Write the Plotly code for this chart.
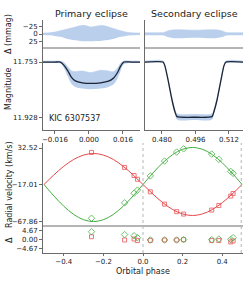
import plotly.graph_objects as go

W, H = 249, 282

# ---------------- data ----------------
# Primary eclipse model + scatter envelopes
p_phase = [-0.0216, -0.0160, -0.0135, -0.0119, -0.0100, -0.0083, -0.0064, -0.0031, 0.0007,
           0.0055, 0.0092, 0.0116, 0.0135, 0.0149, 0.0164, 0.0200, 0.0240]
p_model = [11.753, 11.753, 11.753, 11.762, 11.780, 11.800, 11.812, 11.818, 11.820,
           11.818, 11.813, 11.803, 11.785, 11.766, 11.753, 11.753, 11.753]
p_mag_hi = [11.750, 11.750, 11.750, 11.754, 11.768, 11.780, 11.783, 11.781, 11.786,
            11.779, 11.781, 11.783, 11.772, 11.757, 11.750, 11.750, 11.750]
p_mag_lo = [11.756, 11.756, 11.757, 11.770, 11.797, 11.820, 11.831, 11.836, 11.838,
            11.836, 11.831, 11.823, 11.803, 11.780, 11.760, 11.756, 11.756]

# Primary residual envelope (mmag)
pr_phase = [-0.0216, -0.0183, -0.0160, -0.0136, -0.0112, -0.0088, -0.0064, -0.0041, -0.0017,
            0.0007, 0.0031, 0.0055, 0.0078, 0.0102, 0.0126, 0.0150, 0.0173, 0.0197, 0.0240]
pr_hi = [-3, -4, -6, -10, -14, -18, -22, -26, -27, -22, -24, -27, -25, -20, -15, -10, -6, -4, -3]
pr_lo = [3, 4, 6, 9, 13, 17, 20, 22, 23, 23, 22, 22, 20, 17, 13, 9, 6, 4, 3]

# Secondary eclipse model + scatter envelopes
s_phase = [0.4719, 0.4805, 0.4814, 0.4829, 0.4848, 0.4862, 0.4872, 0.4955, 0.5039,
           0.5048, 0.5063, 0.5082, 0.5096, 0.5106, 0.5187]
s_model = [11.753, 11.753, 11.765, 11.809, 11.872, 11.909, 11.924, 11.926, 11.924,
           11.909, 11.872, 11.809, 11.765, 11.753, 11.753]
s_mag_hi = [11.750, 11.750, 11.761, 11.804, 11.866, 11.902, 11.915, 11.917, 11.915,
            11.902, 11.866, 11.804, 11.761, 11.750, 11.750]
s_mag_lo = [11.756, 11.756, 11.769, 11.814, 11.878, 11.916, 11.933, 11.935, 11.933,
            11.916, 11.878, 11.814, 11.769, 11.756, 11.756]

# Secondary residual envelope (mmag)
sr_phase = [0.4719, 0.4790, 0.4810, 0.4824, 0.4857, 0.4955, 0.5058, 0.5091, 0.5106, 0.5125, 0.5187]
sr_hi = [-4, -4, -5, -9, -13, -12, -13, -9, -5, -4, -4]
sr_lo = [4, 4, 5, 9, 13, 12, 13, 9, 5, 4, 4]

# RV model curves (km/s)
rv_phase = [-0.50, -0.45, -0.40, -0.35, -0.30, -0.25, -0.20, -0.15, -0.10, -0.05, 0.00,
            0.05, 0.10, 0.15, 0.20, 0.25, 0.30, 0.35, 0.40, 0.45, 0.50]
rv_red = [-17.0, -4.0, 7.7, 17.0, 22.9, 25.0, 22.9, 17.0, 7.7, -4.0, -17.0,
          -30.0, -41.7, -51.0, -56.9, -59.0, -56.9, -51.0, -41.7, -30.0, -17.0]
rv_green = [-17.0, -32.5, -46.5, -57.6, -64.7, -67.2, -64.7, -57.6, -46.5, -32.5, -17.0,
            -1.5, 12.5, 23.6, 30.7, 33.2, 30.7, 23.6, 12.5, -1.5, -17.0]

# RV observations
obs_phase = [-0.260, -0.093, -0.045, -0.028, 0.037, 0.109, 0.170, 0.205, 0.347, 0.383, 0.443, 0.455]
obs_red = [26.6, 6.2, -4.8, -9.9, -26.9, -43.6, -53.8, -57.1, -51.7, -45.4, -32.7, -29.2]
obs_green = [-62.8, -41.9, -28.8, -24.6, -5.4, 14.8, 27.0, 31.4, 24.3, 17.1, 0.8, -1.8]
res_red = [1.7, 0.0, 0.5, -0.3, -0.2, 0.0, 0.0, 0.2, -0.3, -0.3, -1.0, -0.5]
res_green = [4.3, 2.8, 2.2, 1.2, 0.0, 0.0, 0.0, 0.2, 0.2, 0.5, 0.3, 1.2]

# Ticks
p_ticks = [-0.016, 0.0, 0.016]
p_ticktext = ["\u22120.016", "0.000", "0.016"]
s_ticks = [0.480, 0.496, 0.512]
s_ticktext = ["0.480", "0.496", "0.512"]
res_ticks = [-25, 0, 25]
res_ticktext = ["\u221225", "0", "25"]
mag_ticks = [11.753, 11.928]
mag_ticktext = ["11.753", "11.928"]
rv_ticks = [32.52, -17.01, -67.86]
rv_ticktext = ["32.52", "\u221217.01", "\u221267.86"]
rvr_ticks = [4.67, 0.0, -4.67]
rvr_ticktext = ["4.67", "0.00", "\u22124.67"]
ph_ticks = [-0.4, -0.2, 0.0, 0.2, 0.4]
ph_ticktext = ["\u22120.4", "\u22120.2", "0.0", "0.2", "0.4"]
eclipse_phases = [0.0, 0.496]

# ---------------- styling ----------------
BAND = "#b9cfec"
MODEL = "#1a2436"
RED = "#e8474a"
GREEN = "#3fae3f"
SPINE = "#6b6b6b"
FONT = "DejaVu Sans"

def px(x):
    return x / W

def py(y):
    return 1 - y / H

fig = go.Figure()

def band(x, lo, hi, xa, ya):
    fig.add_trace(go.Scatter(x=x, y=lo, xaxis=xa, yaxis=ya, mode="lines",
                             line=dict(width=0, color=BAND, shape="spline"),
                             showlegend=False, hoverinfo="skip"))
    fig.add_trace(go.Scatter(x=x, y=hi, xaxis=xa, yaxis=ya, mode="lines", fill="tonexty",
                             fillcolor=BAND, line=dict(width=0.6, color=BAND, shape="spline"),
                             showlegend=False, hoverinfo="skip"))

# primary residual + mag
band(pr_phase, pr_lo, pr_hi, "x", "y")
band(p_phase, p_mag_lo, p_mag_hi, "x", "y2")
fig.add_trace(go.Scatter(x=p_phase, y=p_model, xaxis="x", yaxis="y2", mode="lines",
                         line=dict(color=MODEL, width=1.3, shape="spline", smoothing=0.6),
                         showlegend=False))
# secondary residual + mag
band(sr_phase, sr_lo, sr_hi, "x2", "y5")
band(s_phase, s_mag_lo, s_mag_hi, "x2", "y6")
fig.add_trace(go.Scatter(x=s_phase, y=s_model, xaxis="x2", yaxis="y6", mode="lines",
                         line=dict(color=MODEL, width=1.3, shape="spline", smoothing=0.5),
                         showlegend=False))

# RV curves
fig.add_trace(go.Scatter(x=rv_phase, y=rv_red, xaxis="x3", yaxis="y3", mode="lines",
                         line=dict(color=RED, width=1, shape="spline"), showlegend=False))
fig.add_trace(go.Scatter(x=rv_phase, y=rv_green, xaxis="x3", yaxis="y3", mode="lines",
                         line=dict(color=GREEN, width=1, shape="spline"), showlegend=False))
fig.add_trace(go.Scatter(x=obs_phase, y=obs_red, xaxis="x3", yaxis="y3", mode="markers",
                         marker=dict(symbol="square-open", size=4, color=RED, line=dict(width=1)),
                         opacity=0.75, showlegend=False))
fig.add_trace(go.Scatter(x=obs_phase, y=obs_green, xaxis="x3", yaxis="y3", mode="markers",
                         marker=dict(symbol="diamond-open", size=5, color=GREEN, line=dict(width=1)),
                         opacity=0.75, showlegend=False))
fig.add_trace(go.Scatter(x=obs_phase, y=res_red, xaxis="x3", yaxis="y4", mode="markers",
                         marker=dict(symbol="square-open", size=4, color=RED, line=dict(width=1)),
                         opacity=0.75, showlegend=False))
fig.add_trace(go.Scatter(x=obs_phase, y=res_green, xaxis="x3", yaxis="y4", mode="markers",
                         marker=dict(symbol="diamond-open", size=5, color=GREEN, line=dict(width=1)),
                         opacity=0.75, showlegend=False))

tickfont = dict(family=FONT, size=7, color="#222")
common = dict(showgrid=False, zeroline=False, showline=True, linecolor=SPINE, linewidth=1,
              ticks="outside", ticklen=3, tickwidth=1, tickcolor=SPINE, tickfont=tickfont)
common_x3 = dict(common, ticklen=2)
noticks = dict(showgrid=False, zeroline=False, showline=True, linecolor=SPINE, linewidth=1,
               ticks="", showticklabels=False)

fig.update_layout(
    width=W, height=H, autosize=False,
    margin=dict(l=0, r=0, t=0, b=0),
    paper_bgcolor="white", plot_bgcolor="white",
    xaxis=dict(domain=[px(43), px(140)], range=[-0.0216, 0.0240], anchor="y2",
               tickvals=p_ticks, ticktext=p_ticktext, **common),
    yaxis=dict(domain=[py(48), py(20)], range=[44, -44], anchor="x",
               tickvals=res_ticks, ticktext=res_ticktext, **common),
    yaxis2=dict(domain=[py(130), py(48)], range=[11.966, 11.709], anchor="x",
                tickvals=mag_ticks, ticktext=mag_ticktext, **common),
    xaxis2=dict(domain=[px(145), px(243)], range=[0.4719, 0.5187], anchor="y6",
                tickvals=s_ticks, ticktext=s_ticktext, **common),
    yaxis5=dict(domain=[py(48), py(20)], range=[44, -44], anchor="x2", **noticks),
    yaxis6=dict(domain=[py(130), py(48)], range=[11.966, 11.709], anchor="x2", **noticks),
    xaxis3=dict(domain=[px(43), px(243)], range=[-0.505, 0.505], anchor="y4",
                tickvals=ph_ticks, ticktext=ph_ticktext, **common_x3),
    yaxis3=dict(domain=[py(226), py(143)], range=[-73.3, 39.3], anchor="x3",
                tickvals=rv_ticks, ticktext=rv_ticktext, **common),
    yaxis4=dict(domain=[py(253), py(226)], range=[-6.75, 7.26], anchor="x3",
                tickvals=rvr_ticks, ticktext=rvr_ticktext, **common),
)

shapes = []
for x0, x1 in [(43, 140), (145, 243)]:
    shapes.append(dict(type="line", xref="paper", yref="paper", x0=px(x0), x1=px(x1),
                       y0=py(48), y1=py(48), line=dict(color=SPINE, width=1)))
shapes.append(dict(type="line", xref="paper", yref="paper", x0=px(43), x1=px(243),
                   y0=py(226), y1=py(226), line=dict(color=SPINE, width=1)))
for ph in eclipse_phases:
    shapes.append(dict(type="line", xref="x3", yref="paper", x0=ph, x1=ph,
                       y0=py(253), y1=py(143), line=dict(color="#b5b5b5", width=1, dash="dot")))
fig.update_layout(shapes=shapes)

ann = []
def text(t, x, y, size, angle=0, xanchor="center"):
    ann.append(dict(text=t, x=px(x), y=py(y), xref="paper", yref="paper", showarrow=False,
                    textangle=angle, xanchor=xanchor, yanchor="middle",
                    font=dict(family=FONT, size=size, color="#222")))

text("Primary eclipse", 91.5, 13, 9.5)
text("Secondary eclipse", 194, 13, 9.5)
text("\u0394 (mmag)", 9, 34, 8, angle=-90)
text("Magnitude", 9, 89, 8, angle=-90)
text("Radial velocity (km/s)", 9, 185, 8, angle=-90)
text("\u0394", 9, 240, 8, angle=-90)
text("Orbital phase", 143, 271, 8)
text("KIC 6307537", 47, 118, 8, xanchor="left")
fig.update_layout(annotations=ann)

fig.write_html("out.html", config={"displayModeBar": False},
               post_script="document.body.style.margin='0';document.body.style.overflow='hidden';")
